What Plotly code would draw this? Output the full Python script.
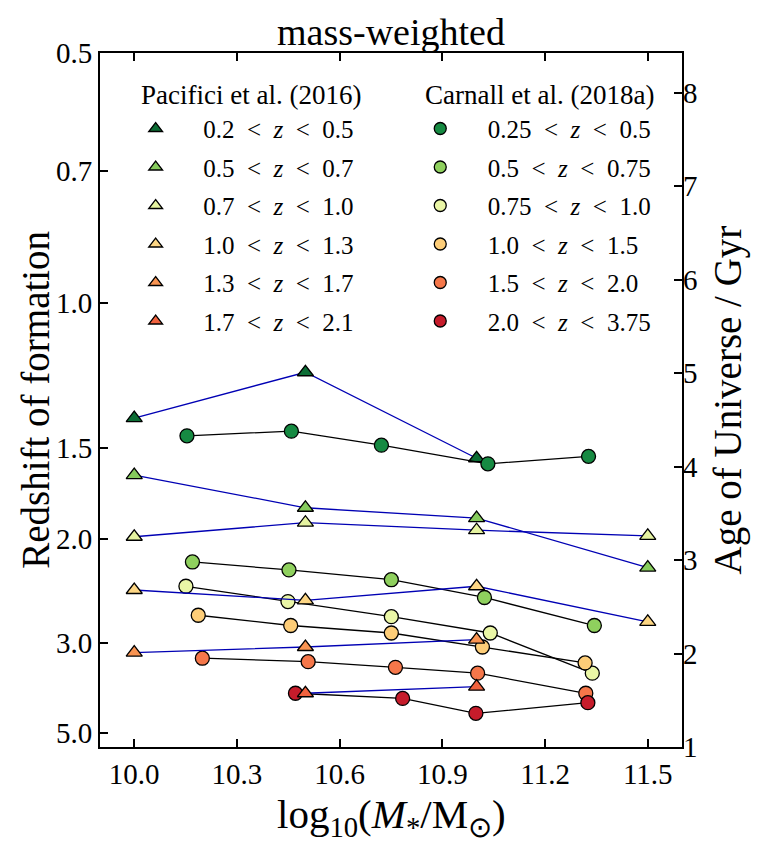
import numpy as np
import plotly.graph_objects as go

# ---------------- data (age of Universe at formation, Gyr) ----------------
pac_labels = ["0.2 < z < 0.5", "0.5 < z < 0.7", "0.7 < z < 1.0",
              "1.0 < z < 1.3", "1.3 < z < 1.7", "1.7 < z < 2.1"]
pac_mass = [
    [10.0, 10.5, 11.0],
    [10.0, 10.5, 11.0, 11.5],
    [10.0, 10.5, 11.0, 11.5],
    [10.0, 10.5, 11.0, 11.5],
    [10.0, 10.5, 11.0],
    [10.5, 11.0],
]
pac_age = [
    [4.52, 5.01, 4.09],
    [3.91, 3.56, 3.45, 2.92],
    [3.25, 3.40, 3.32, 3.26],
    [2.68, 2.57, 2.72, 2.34],
    [2.01, 2.07, 2.15],
    [1.575, 1.646],
]
pac_colors = ["#0c6d35", "#86cb5c", "#e5f3a0", "#fdd684", "#f99452", "#f1623e"]

car_labels = ["0.25 < z < 0.5", "0.5 < z < 0.75", "0.75 < z < 1.0",
              "1.0 < z < 1.5", "1.5 < z < 2.0", "2.0 < z < 3.75"]
car_mass = [
    [10.154, 10.459, 10.722, 11.033, 11.327],
    [10.170, 10.452, 10.751, 11.023, 11.344],
    [10.151, 10.449, 10.751, 11.040, 11.338],
    [10.187, 10.457, 10.751, 11.017, 11.317],
    [10.199, 10.508, 10.763, 11.003, 11.319],
    [10.471, 10.784, 10.998, 11.325],
]
car_age = [
    [4.33, 4.38, 4.23, 4.03, 4.11],
    [2.98, 2.895, 2.79, 2.60, 2.30],
    [2.72, 2.556, 2.395, 2.22, 1.79],
    [2.41, 2.30, 2.22, 2.07, 1.90],
    [1.95, 1.913, 1.853, 1.79, 1.575],
    [1.575, 1.52, 1.36, 1.474],
]
car_colors = ["#168a42", "#8fd05e", "#eaf6a6", "#fdcd78", "#f5774a", "#c61c2b"]

x_ticks = [10.0, 10.3, 10.6, 10.9, 11.2, 11.5]
x_ticktext = ["10.0", "10.3", "10.6", "10.9", "11.2", "11.5"]
z_ticks = [0.5, 0.7, 1.0, 1.5, 2.0, 3.0, 5.0]
z_ticktext = ["0.5", "0.7", "1.0", "1.5", "2.0", "3.0", "5.0"]
age_ticks = [1, 2, 3, 4, 5, 6, 7, 8]

# flat LCDM (H0=70, Om=0.3) age-redshift relation for the left axis
H0, Om, OL = 70.0, 0.3, 0.7
def age_at_z(z):
    z = np.asarray(z, dtype=float)
    tH = 977.8 / H0
    return 2.0 * tH / (3.0 * np.sqrt(OL)) * np.arcsinh(np.sqrt(OL / Om) * (1.0 + z) ** -1.5)

FONT = "Liberation Serif, Times New Roman, serif"

def fmt(lbl):
    return lbl.replace(" < ", "\u2002<\u2002").replace("z", "<i>z</i>")

fig = go.Figure()

def add_pac(i):
    fig.add_trace(go.Scatter(
        x=pac_mass[i], y=pac_age[i], mode="lines+markers",
        line=dict(color="#0000b4", width=1.3),
        marker=dict(symbol="triangle-up", size=14, color=pac_colors[i],
                    line=dict(color="black", width=1.3)),
        showlegend=False, hoverinfo="skip"))

def add_car(i):
    fig.add_trace(go.Scatter(
        x=car_mass[i], y=car_age[i], mode="lines+markers",
        line=dict(color="black", width=1.3),
        marker=dict(symbol="circle", size=14, color=car_colors[i],
                    line=dict(color="black", width=1.3)),
        showlegend=False, hoverinfo="skip"))

add_pac(0)
for i in range(6):
    add_car(i)
for i in range(1, 6):
    add_pac(i)

for i in range(6):
    fig.add_trace(go.Scatter(
        x=[None], y=[None], mode="markers", name=fmt(pac_labels[i]),
        marker=dict(symbol="triangle-up", size=12, color=pac_colors[i],
                    line=dict(color="black", width=1.3)),
        legend="legend", legendgroup="p%d" % i, showlegend=True))
for i in range(6):
    fig.add_trace(go.Scatter(
        x=[None], y=[None], mode="markers", name=fmt(car_labels[i]),
        marker=dict(symbol="circle", size=12, color=car_colors[i],
                    line=dict(color="black", width=1.3)),
        legend="legend2", legendgroup="c%d" % i, showlegend=True))

fig.add_trace(go.Scatter(x=[None], y=[None], yaxis="y2", showlegend=False))

yr = [1.0, float(age_at_z(0.5))]

fig.update_layout(
    width=764, height=842,
    margin=dict(l=100, r=82, t=53, b=95),
    paper_bgcolor="white", plot_bgcolor="white",
    font=dict(family=FONT, color="black", size=25),
    title=dict(text="mass-weighted", x=0.5, xref="paper", xanchor="center",
               y=1, yref="paper", yanchor="bottom", pad=dict(b=8),
               font=dict(size=38, family=FONT)),
    xaxis=dict(range=[9.9, 11.6], tickvals=x_ticks, ticktext=x_ticktext,
               ticks="inside", ticklen=8, tickwidth=1.5, tickcolor="black",
               showline=True, linewidth=2, linecolor="black", mirror="ticks",
               showgrid=False, zeroline=False, automargin=False,
               tickfont=dict(size=29, family=FONT)),
    yaxis=dict(range=yr, tickvals=list(age_at_z(z_ticks)), ticktext=z_ticktext,
               ticks="inside", ticklen=8, tickwidth=1.5, tickcolor="black",
               showline=True, linewidth=2, linecolor="black", mirror=True,
               showgrid=False, zeroline=False, automargin=False,
               tickfont=dict(size=29, family=FONT)),
    yaxis2=dict(range=yr, overlaying="y", side="right", tickvals=age_ticks,
                ticks="inside", ticklen=8, tickwidth=1.5, tickcolor="black",
                showline=False, showgrid=False, zeroline=False, automargin=False,
                tickfont=dict(size=29, family=FONT),
                title=dict(text="Age of Universe / Gyr", font=dict(size=39, family=FONT), standoff=16)),
    legend=dict(x=0.014, y=0.924, xanchor="left", yanchor="top",
                bgcolor="rgba(0,0,0,0)", font=dict(size=25, family=FONT),
                itemwidth=85, tracegroupgap=3, traceorder="grouped"),
    legend2=dict(x=0.503, y=0.924, xanchor="left", yanchor="top",
                 bgcolor="rgba(0,0,0,0)", font=dict(size=25, family=FONT),
                 itemwidth=85, tracegroupgap=3, traceorder="grouped"),
)

# axis titles and legend headers
fig.add_annotation(text="log<sub>10</sub>(<i>M</i><sub>*</sub>/M<sub>\u2299</sub>)",
                   x=0.5, y=-0.06, xref="paper", yref="paper",
                   xanchor="center", yanchor="top", showarrow=False,
                   font=dict(size=41, family=FONT))
fig.add_annotation(text="Redshift of formation", textangle=-90,
                   x=-0.112, y=0.5, xref="paper", yref="paper",
                   xanchor="center", yanchor="middle", showarrow=False,
                   font=dict(size=39, family=FONT))
fig.add_annotation(text="Pacifici et al. (2016)", x=0.2595, y=0.9395,
                   xref="paper", yref="paper", xanchor="center", yanchor="middle",
                   showarrow=False, font=dict(size=27, family=FONT))
fig.add_annotation(text="Carnall et al. (2018a)", x=0.756, y=0.9395,
                   xref="paper", yref="paper", xanchor="center", yanchor="middle",
                   showarrow=False, font=dict(size=27, family=FONT))

fig.write_html("out.html")
